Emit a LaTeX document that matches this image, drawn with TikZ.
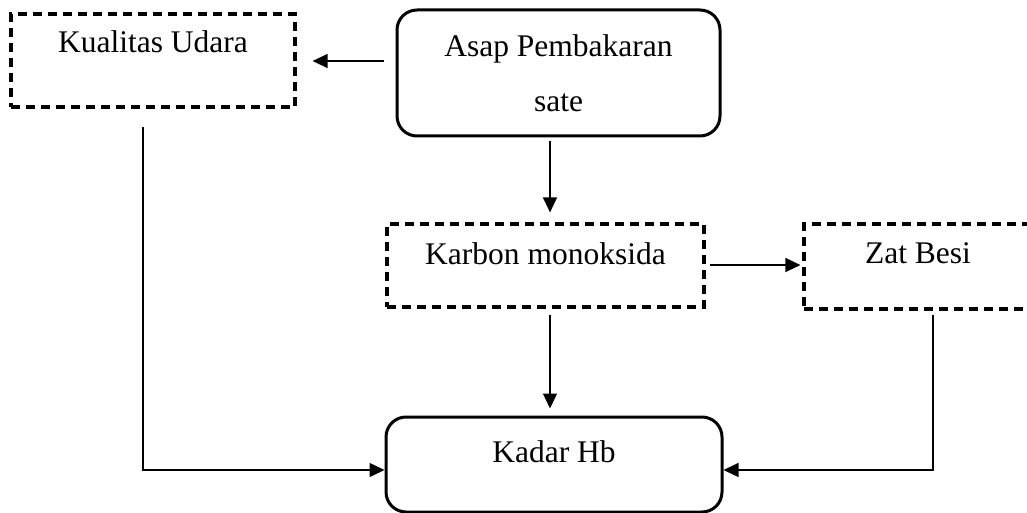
\documentclass[tikz,border=0pt]{standalone}
\usepackage{fontspec}
\setmainfont{Liberation Serif}
\usetikzlibrary{arrows.meta,calc}
\begin{document}
\begin{tikzpicture}[x=1pt,y=-1pt,
  dbox/.style={draw,line width=3.2pt,dash pattern=on 9pt off 6pt,inner sep=0pt},
  rbox/.style={draw,line width=3pt,rounded corners=20pt,inner sep=0pt},
  lbl/.style={anchor=base,inner sep=0pt,font=\fontsize{31.5}{36}\selectfont},
  arr/.style={line width=1.4pt,-{Triangle[length=15pt,width=14pt]}}]
\useasboundingbox (0,0) rectangle (1027,513);
% boxes
\node[dbox,minimum width=284pt,minimum height=93pt] (KU) at (153,60.5) {};
\node[rbox,minimum width=323pt,minimum height=126pt] (AP) at (558.5,73) {};
\node[dbox,minimum width=317pt,minimum height=83pt] (KM) at (545.5,265.5) {};
\node[dbox,minimum width=236pt,minimum height=85pt] (ZB) at (922,266.5) {};
\node[rbox,minimum width=336pt,minimum height=95pt] (KH) at (554,464.5) {};
% texts
\node[lbl] (tKU) at (153,53) {Kualitas Udara};
\node[lbl] (tAP1) at (558.5,57) {Asap Pembakaran};
\node[lbl] (tAP2) at (558.5,112) {sate};
\node[lbl] (tKM) at (545.5,264) {Karbon monoksida};
\node[lbl] (tZB) at (918,263) {Zat Besi};
\node[lbl] (tKH) at (554,462) {Kadar Hb};
% connectors
\draw[arr,shorten <=12pt,shorten >=16pt] (AP.west |- 0,61) -- (KU.east |- 0,61);
\draw[arr,shorten <=4pt,shorten >=10pt] (AP.south -| 550,0) -- (KM.north -| 550,0);
\draw[arr,shorten <=4pt,shorten >=2pt] (KM.east |- 0,265) -- (ZB.west |- 0,265);
\draw[arr,shorten <=6pt,shorten >=7pt] (KM.south -| 550,0) -- (KH.north -| 550,0);
\draw[arr,shorten <=18pt] (KU.south -| 143,0) -- (143,470) -- (KH.west |- 0,470);
\draw[arr,shorten <=4pt] (ZB.south -| 933,0) -- (933,470) -- (KH.east |- 0,470);
\end{tikzpicture}
\end{document}
